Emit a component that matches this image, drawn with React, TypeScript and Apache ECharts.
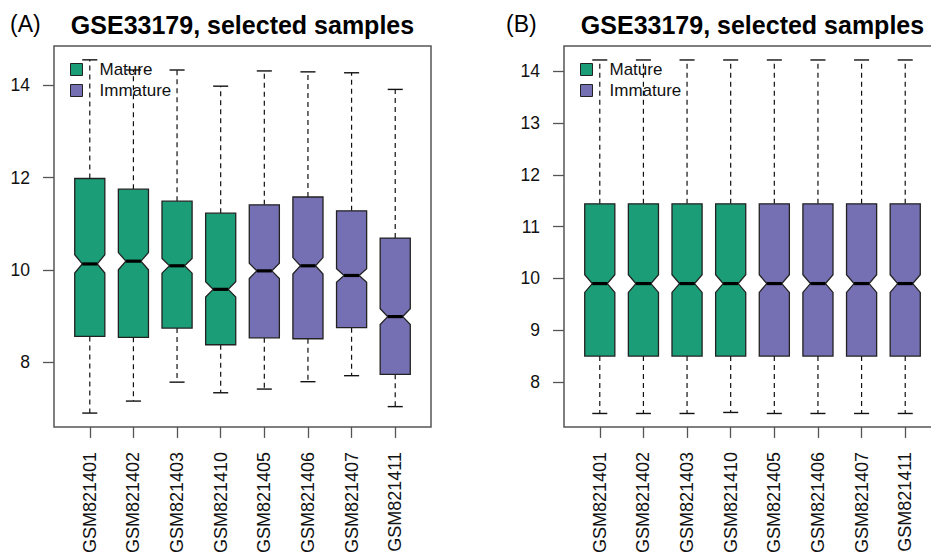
import React, { useEffect, useRef } from "react";
import * as echarts from "echarts";

const categories = ["GSM821401", "GSM821402", "GSM821403", "GSM821410", "GSM821405", "GSM821406", "GSM821407", "GSM821411"];
const groupNames = ["Mature", "Immature"];
const groupOf = [0, 0, 0, 0, 1, 1, 1, 1];
const groupColors = ["#1B9E77", "#7570B3"];

// Panel A (raw)
const minA = [6.9, 7.16, 7.57, 7.34, 7.42, 7.58, 7.71, 7.04];
const q1A = [8.56, 8.54, 8.74, 8.38, 8.53, 8.51, 8.75, 7.74];
const medA = [10.13, 10.19, 10.09, 9.58, 9.98, 10.09, 9.88, 8.99];
const q3A = [11.98, 11.75, 11.49, 11.23, 11.41, 11.58, 11.28, 10.69];
const maxA = [14.55, 14.33, 14.33, 13.98, 14.31, 14.29, 14.27, 13.91];

// Panel B (normalized)
const minB = [7.39, 7.39, 7.39, 7.41, 7.39, 7.39, 7.39, 7.39];
const q1B = [8.5, 8.5, 8.5, 8.5, 8.5, 8.5, 8.5, 8.5];
const medB = [9.9, 9.9, 9.9, 9.9, 9.9, 9.9, 9.9, 9.9];
const q3B = [11.44, 11.44, 11.44, 11.44, 11.44, 11.44, 11.44, 11.44];
const maxB = [14.22, 14.22, 14.22, 14.22, 14.22, 14.22, 14.22, 14.22];

const yTicksA = [8, 10, 12, 14];
const yTicksB = [8, 9, 10, 11, 12, 13, 14];
const xTicks = [1, 2, 3, 4, 5, 6, 7, 8];
const titleText = "GSE33179, selected samples";
const panelLabels = ["(A)", "(B)"];

const NOTCH_K = 0.058; // 1.58 / sqrt(n)
const FONT = "'Liberation Sans', Arial, Helvetica, sans-serif";

function renderBox(params: any, api: any) {
  const x = api.value(0);
  const lo = api.value(1);
  const q1 = api.value(2);
  const med = api.value(3);
  const q3 = api.value(4);
  const hi = api.value(5);
  const color = api.visual("color");
  const cx = api.coord([x, med])[0];
  const py = (v: number) => api.coord([x, v])[1];
  const hw = api.size([0.69, 0])[0] / 2;
  const notch = NOTCH_K * (q3 - q1);
  const yq1 = py(q1), yq3 = py(q3), ym = py(med);
  const ynl = py(med - notch), ynh = py(med + notch);
  const ylo = py(lo), yhi = py(hi);
  const capW = hw / 2;
  const dash = { stroke: "#111", lineWidth: 1.2, lineDash: [5, 4] };
  const solid = { stroke: "#111", lineWidth: 1.4 };
  return {
    type: "group",
    children: [
      { type: "line", shape: { x1: cx, y1: yq3, x2: cx, y2: yhi }, style: dash },
      { type: "line", shape: { x1: cx, y1: yq1, x2: cx, y2: ylo }, style: dash },
      { type: "line", shape: { x1: cx - capW, y1: yhi, x2: cx + capW, y2: yhi }, style: solid },
      { type: "line", shape: { x1: cx - capW, y1: ylo, x2: cx + capW, y2: ylo }, style: solid },
      {
        type: "polygon",
        shape: {
          points: [
            [cx - hw, yq1], [cx - hw, ynl], [cx - hw / 2, ym], [cx - hw, ynh], [cx - hw, yq3],
            [cx + hw, yq3], [cx + hw, ynh], [cx + hw / 2, ym], [cx + hw, ynl], [cx + hw, yq1],
          ],
        },
        style: { fill: color, stroke: "#222", lineWidth: 1.3 },
      },
      { type: "line", shape: { x1: cx - hw / 2, y1: ym, x2: cx + hw / 2, y2: ym }, style: { stroke: "#000", lineWidth: 3.2 } },
    ],
  };
}

function buildData(g: number, mn: number[], q1: number[], md: number[], q3: number[], mx: number[]) {
  const out: number[][] = [];
  categories.forEach((_, i) => {
    if (groupOf[i] === g) out.push([i + 1, mn[i], q1[i], md[i], q3[i], mx[i]]);
  });
  return out;
}

export default function App() {
  const ref = useRef<HTMLDivElement>(null);
  useEffect(() => {
    if (!ref.current) return;
    const chart = echarts.init(ref.current, null, { renderer: "svg" });
    const panels = [
      { left: 54, data: [minA, q1A, medA, q3A, maxA], ymin: 6.6, ymax: 14.85, ticks: yTicksA },
      { left: 564, data: [minB, q1B, medB, q3B, maxB], ymin: 7.13, ymax: 14.49, ticks: yTicksB },
    ];
    const gridW = 377;
    const option: any = {
      animation: false,
      backgroundColor: "#fff",
      textStyle: { fontFamily: FONT },
      title: panels.flatMap((p, i) => [
        {
          text: titleText,
          left: p.left + gridW / 2,
          textAlign: "center",
          top: 12,
          padding: 0,
          textStyle: { fontFamily: FONT, fontSize: 25, fontWeight: "bold", color: "#000" },
        },
        {
          text: panelLabels[i],
          left: i === 0 ? 10 : 506,
          top: 12,
          padding: 0,
          textStyle: { fontFamily: FONT, fontSize: 23, fontWeight: "normal", color: "#000" },
        },
      ]),
      legend: panels.map((p) => ({
        data: groupNames,
        orient: "vertical",
        left: p.left + 16,
        top: 61,
        padding: 0,
        itemWidth: 12,
        itemHeight: 12,
        itemGap: 4,
        icon: "rect",
        selectedMode: false,
        itemStyle: { borderColor: "#222", borderWidth: 1 },
        textStyle: { fontFamily: FONT, fontSize: 17, color: "#111", padding: [0, 0, 0, 12] },
      })),
      grid: panels.map((p) => ({
        left: p.left,
        top: 46,
        width: gridW,
        height: 381,
        show: true,
        borderColor: "#555",
        borderWidth: 1.5,
        backgroundColor: "transparent",
      })),
      xAxis: panels.map((_, i) => ({
        type: "value",
        gridIndex: i,
        min: 0.18,
        max: 8.82,
        axisLine: { show: false },
        splitLine: { show: false },
        axisTick: { show: true, customValues: xTicks, length: 11, lineStyle: { color: "#555", width: 1.3 } },
        axisLabel: {
          customValues: xTicks,
          rotate: 90,
          margin: 25,
          fontFamily: FONT,
          fontSize: 18,
          color: "#111",
          formatter: (v: number) => categories[Math.round(v) - 1] ?? "",
        },
      })),
      yAxis: panels.map((p, i) => ({
        type: "value",
        gridIndex: i,
        min: p.ymin,
        max: p.ymax,
        axisLine: { show: false },
        splitLine: { show: false },
        axisTick: { show: true, customValues: p.ticks, length: 11, lineStyle: { color: "#555", width: 1.3 } },
        axisLabel: {
          customValues: p.ticks,
          margin: 24,
          fontFamily: FONT,
          fontSize: 17.5,
          color: "#111",
        },
      })),
      series: panels.flatMap((p, i) =>
        groupNames.map((name, g) => ({
          type: "custom",
          name,
          xAxisIndex: i,
          yAxisIndex: i,
          itemStyle: { color: groupColors[g] },
          renderItem: renderBox,
          encode: { x: 0, y: [1, 2, 3, 4, 5] },
          data: buildData(g, p.data[0], p.data[1], p.data[2], p.data[3], p.data[4]),
          z: 1,
        }))
      ),
    };
    chart.setOption(option);
    return () => chart.dispose();
  }, []);
  return (
    <div style={{ position: "fixed", left: 0, top: 0, width: 931, height: 556, overflow: "hidden" }}>
      <div ref={ref} style={{ position: "absolute", left: 0, top: 0, width: 960, height: 556 }} />
    </div>
  );
}
